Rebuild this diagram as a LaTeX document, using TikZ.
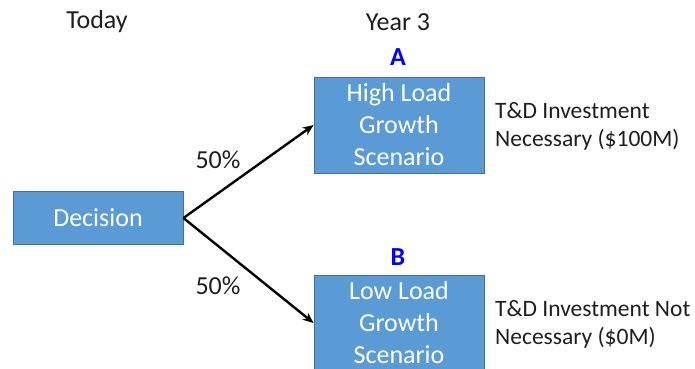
\documentclass[tikz,border=0pt]{standalone}
\usepackage{fontspec}
\setmainfont{Carlito}
\usetikzlibrary{arrows.meta,positioning}
\definecolor{boxblue}{RGB}{91,155,213}
\definecolor{boxedge}{RGB}{65,113,156}
\definecolor{inkgray}{RGB}{30,30,30}
\tikzset{
  scenario/.style={draw=boxedge, line width=0.8pt, fill=boxblue, text=white,
    minimum width=170pt, minimum height=96pt, inner sep=0pt, align=center,
    font=\fontsize{26}{32}\selectfont},
  decbox/.style={scenario, minimum height=53pt},
  heading/.style={text=inkgray, font=\fontsize{26}{30}\selectfont},
  outcome/.style={text=inkgray, inner sep=0pt, align=left,
    font=\fontsize{23.5}{28}\selectfont},
  tag/.style={text=blue, font=\fontsize{26}{30}\selectfont\bfseries},
  branch/.style={-{Stealth[length=11pt,width=9pt]}, line width=2.4pt}
}
\begin{document}
\begin{tikzpicture}[x=1pt,y=-1pt]
  \clip (0,0) rectangle (695,368);

  \node[heading] (today) at (97,22) {Today};
  \node[heading] (year) at (398,22) {Year 3};

  \node[decbox] (dec) at (98,218) {Decision};
  \node[scenario] (high) at (399,125) {High Load\\Growth\\Scenario};
  \node[scenario] (low) at (399,323) {Low Load\\Growth\\Scenario};

  \node[tag] (taga) at (398,57) {A};
  \node[tag] (tagb) at (398,257) {B};

  \node[outcome, anchor=west] (costa) at (495,126)
    {T\&D Investment\\Necessary (\$100M)};
  \node[outcome, anchor=west] (costb) at (495,324)
    {T\&D Investment Not\\Necessary (\$0M)};

  \draw[branch] (dec.east) -- (high.west);
  \draw[branch] (dec.east) -- (low.west);
  \node[heading] (pa) at (218,160) {50\%};
  \node[heading] (pb) at (218,286) {50\%};
\end{tikzpicture}
\end{document}
